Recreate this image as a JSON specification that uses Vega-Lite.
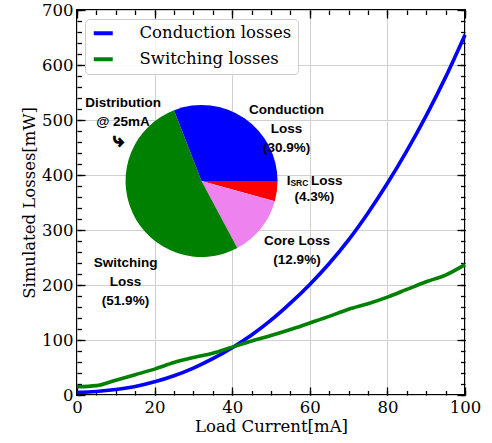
{
  "$schema": "https://vega.github.io/schema/vega-lite/v6.json",
  "width": 388,
  "height": 385,
  "autosize": "none",
  "padding": {"left": 77, "top": 10, "right": 27, "bottom": 48},
  "background": "white",
  "config": {
    "view": {"stroke": "black", "strokeWidth": 2},
    "axis": {
      "domain": false,
      "tickColor": "black",
      "tickWidth": 1.3,
      "labelFont": "DejaVu Serif",
      "labelFontSize": 16.5,
      "labelColor": "black",
      "labelFlush": false,
      "labelOverlap": false,
      "labelBound": false,
      "titleFont": "DejaVu Serif",
      "titleFontSize": 16.5,
      "titleFontWeight": "normal",
      "titleColor": "black",
      "gridColor": "#d0d0d0",
      "gridWidth": 1
    },
    "text": {
      "font": "Liberation Sans, Arial, sans-serif",
      "fontWeight": "bold",
      "fontSize": 13.5,
      "lineHeight": 19,
      "lineBreak": "\n",
      "color": "black"
    }
  },
  "datasets": {
    "losses": [
      {"current": 0, "loss": 5, "series": "Conduction losses"},
      {"current": 5, "loss": 6.5, "series": "Conduction losses"},
      {"current": 10, "loss": 10, "series": "Conduction losses"},
      {"current": 15, "loss": 15.5, "series": "Conduction losses"},
      {"current": 20, "loss": 24, "series": "Conduction losses"},
      {"current": 25, "loss": 35, "series": "Conduction losses"},
      {"current": 30, "loss": 49, "series": "Conduction losses"},
      {"current": 35, "loss": 66, "series": "Conduction losses"},
      {"current": 40, "loss": 86, "series": "Conduction losses"},
      {"current": 45, "loss": 109, "series": "Conduction losses"},
      {"current": 50, "loss": 136, "series": "Conduction losses"},
      {"current": 55, "loss": 167, "series": "Conduction losses"},
      {"current": 60, "loss": 201, "series": "Conduction losses"},
      {"current": 65, "loss": 239, "series": "Conduction losses"},
      {"current": 70, "loss": 282, "series": "Conduction losses"},
      {"current": 75, "loss": 331, "series": "Conduction losses"},
      {"current": 80, "loss": 385, "series": "Conduction losses"},
      {"current": 85, "loss": 444, "series": "Conduction losses"},
      {"current": 90, "loss": 508, "series": "Conduction losses"},
      {"current": 95, "loss": 578, "series": "Conduction losses"},
      {"current": 100, "loss": 655, "series": "Conduction losses"},
      {"current": 0, "loss": 15, "series": "Switching losses"},
      {"current": 5, "loss": 17, "series": "Switching losses"},
      {"current": 10, "loss": 27, "series": "Switching losses"},
      {"current": 15, "loss": 37, "series": "Switching losses"},
      {"current": 20, "loss": 47, "series": "Switching losses"},
      {"current": 25, "loss": 59, "series": "Switching losses"},
      {"current": 30, "loss": 68, "series": "Switching losses"},
      {"current": 35, "loss": 76, "series": "Switching losses"},
      {"current": 40, "loss": 87, "series": "Switching losses"},
      {"current": 45, "loss": 98, "series": "Switching losses"},
      {"current": 50, "loss": 108, "series": "Switching losses"},
      {"current": 55, "loss": 119, "series": "Switching losses"},
      {"current": 60, "loss": 131, "series": "Switching losses"},
      {"current": 65, "loss": 143, "series": "Switching losses"},
      {"current": 70, "loss": 156, "series": "Switching losses"},
      {"current": 75, "loss": 166, "series": "Switching losses"},
      {"current": 80, "loss": 178, "series": "Switching losses"},
      {"current": 85, "loss": 192, "series": "Switching losses"},
      {"current": 90, "loss": 206, "series": "Switching losses"},
      {"current": 95, "loss": 218, "series": "Switching losses"},
      {"current": 100, "loss": 237, "series": "Switching losses"}
    ],
    "slices": [
      {"part": "ISRC Loss", "name": "ISRC Loss", "share": 4.3},
      {"part": "Core Loss", "name": "Core Loss", "share": 12.9},
      {"part": "Switching Loss", "name": "Switching\nLoss", "share": 51.9},
      {"part": "Conduction Loss", "name": "Conduction\nLoss", "share": 30.9}
    ]
  },
  "layer": [
    {
      "data": {"name": "losses"},
      "mark": {"type": "line", "strokeWidth": 3.6, "interpolate": "monotone"},
      "encoding": {
        "x": {
          "field": "current",
          "type": "quantitative",
          "scale": {"domain": [0, 100], "nice": false, "zero": false},
          "axis": {
            "orient": "bottom",
            "values": [0, 20, 40, 60, 80, 100],
            "tickSize": -8,
            "labelPadding": 12,
            "grid": true,
            "title": "Load Current[mA]",
            "titlePadding": 3
          }
        },
        "y": {
          "field": "loss",
          "type": "quantitative",
          "scale": {"domain": [0, 700], "nice": false},
          "axis": {
            "orient": "left",
            "values": [0, 100, 200, 300, 400, 500, 600, 700],
            "tickSize": -8,
            "labelPadding": 12,
            "grid": true,
            "title": "Simulated Losses[mW]",
            "titlePadding": 4
          }
        },
        "color": {
          "field": "series",
          "type": "nominal",
          "scale": {"domain": ["Conduction losses", "Switching losses"], "range": ["#0000ff", "#008000"]},
          "legend": {
            "orient": "none",
            "legendX": 8,
            "legendY": 9,
            "title": null,
            "fillColor": "rgba(255,255,255,0.85)",
            "strokeColor": "#cccccc",
            "cornerRadius": 4,
            "padding": 6,
            "symbolType": "M-1.1,0H2.7",
            "symbolStrokeWidth": 4,
            "symbolSize": 100,
            "symbolFillColor": "transparent",
            "labelFont": "DejaVu Serif",
            "labelFontSize": 16.5,
            "labelColor": "black",
            "labelOffset": 32,
            "rowPadding": 9
          }
        }
      }
    },
    {
      "data": {"name": "slices"},
      "transform": [{"window": [{"op": "row_number", "as": "idx"}]}],
      "mark": {"type": "arc", "radius": 76},
      "encoding": {
        "theta": {
          "field": "share",
          "type": "quantitative",
          "stack": true,
          "scale": {"domain": [0, 100], "range": [1.5707963, 7.8539816]}
        },
        "order": {"field": "idx", "type": "quantitative"},
        "color": {
          "field": "part",
          "type": "nominal",
          "scale": {
            "domain": ["ISRC Loss", "Core Loss", "Switching Loss", "Conduction Loss"],
            "range": ["#ff0000", "#ee82ee", "#008000", "#0000ff"]
          },
          "legend": null
        },
        "x": {
          "datum": 32.1,
          "type": "quantitative",
          "axis": {
            "orient": "bottom",
            "values": [0, 5, 10, 15, 20, 25, 30, 35, 40, 45, 50, 55, 60, 65, 70, 75, 80, 85, 90, 95, 100],
            "tickSize": -4.5,
            "labels": false,
            "grid": false,
            "title": null
          }
        },
        "y": {
          "datum": 389.1,
          "type": "quantitative",
          "axis": {
            "orient": "left",
            "values": [0, 20, 40, 60, 80, 100, 120, 140, 160, 180, 200, 220, 240, 260, 280, 300, 320, 340, 360, 380, 400, 420, 440, 460, 480, 500, 520, 540, 560, 580, 600, 620, 640, 660, 680, 700],
            "tickSize": -4.5,
            "labels": false,
            "grid": false,
            "title": null
          }
        }
      }
    },
    {
      "data": {"name": "slices"},
      "transform": [
        {"filter": "datum.part === 'Conduction Loss'"},
        {"calculate": "datum.name + '\\n(' + format(datum.share, '.1f') + '%)'", "as": "label"}
      ],
      "mark": {"type": "text", "align": "center", "baseline": "middle"},
      "encoding": {
        "text": {"field": "label"},
        "x": {
          "datum": 54.0,
          "type": "quantitative",
          "axis": {
            "orient": "top",
            "values": [0, 20, 40, 60, 80, 100],
            "tickSize": -8,
            "labels": false,
            "grid": false,
            "title": null
          }
        },
        "y": {
          "datum": 518.7,
          "type": "quantitative",
          "axis": {
            "orient": "right",
            "values": [0, 100, 200, 300, 400, 500, 600, 700],
            "tickSize": -8,
            "labels": false,
            "grid": false,
            "title": null
          }
        }
      }
    },
    {
      "data": {"name": "slices"},
      "transform": [
        {"filter": "datum.part === 'Switching Loss'"},
        {"calculate": "datum.name + '\\n(' + format(datum.share, '.1f') + '%)'", "as": "label"}
      ],
      "mark": {"type": "text", "align": "center", "baseline": "middle"},
      "encoding": {
        "text": {"field": "label"},
        "x": {
          "datum": 12.5,
          "type": "quantitative",
          "axis": {
            "orient": "top",
            "values": [0, 5, 10, 15, 20, 25, 30, 35, 40, 45, 50, 55, 60, 65, 70, 75, 80, 85, 90, 95, 100],
            "tickSize": -4.5,
            "labels": false,
            "grid": false,
            "title": null
          }
        },
        "y": {
          "datum": 239.5,
          "type": "quantitative",
          "axis": {
            "orient": "right",
            "values": [0, 20, 40, 60, 80, 100, 120, 140, 160, 180, 200, 220, 240, 260, 280, 300, 320, 340, 360, 380, 400, 420, 440, 460, 480, 500, 520, 540, 560, 580, 600, 620, 640, 660, 680, 700],
            "tickSize": -4.5,
            "labels": false,
            "grid": false,
            "title": null
          }
        }
      }
    },
    {
      "data": {"name": "slices"},
      "transform": [
        {"filter": "datum.part === 'Core Loss'"},
        {"calculate": "datum.name + '\\n(' + format(datum.share, '.1f') + '%)'", "as": "label"}
      ],
      "mark": {"type": "text", "align": "center", "baseline": "middle"},
      "encoding": {
        "text": {"field": "label"},
        "x": {"datum": 56.7, "type": "quantitative", "axis": null},
        "y": {"datum": 280.9, "type": "quantitative", "axis": null}
      }
    },
    {
      "data": {"name": "slices"},
      "transform": [
        {"filter": "datum.part === 'ISRC Loss'"},
        {"calculate": "'(' + format(datum.share, '.1f') + '%)'", "as": "label"}
      ],
      "mark": {"type": "text", "align": "center", "baseline": "middle"},
      "encoding": {
        "text": {"field": "label"},
        "x": {"datum": 61.2, "type": "quantitative", "axis": null},
        "y": {"datum": 360.5, "type": "quantitative", "axis": null}
      }
    },
    {
      "data": {"name": "slices"},
      "transform": [{"filter": "datum.part === 'ISRC Loss'"}],
      "mark": {"type": "text", "align": "right", "baseline": "alphabetic", "text": "I"},
      "encoding": {
        "x": {"datum": 55.0, "type": "quantitative", "axis": null},
        "y": {"datum": 381.8, "type": "quantitative", "axis": null}
      }
    },
    {
      "data": {"name": "slices"},
      "transform": [{"filter": "datum.part === 'ISRC Loss'"}],
      "mark": {"type": "text", "align": "left", "baseline": "alphabetic", "text": "SRC", "fontSize": 8.5},
      "encoding": {
        "x": {"datum": 55.0, "type": "quantitative", "axis": null},
        "y": {"datum": 380.5, "type": "quantitative", "axis": null}
      }
    },
    {
      "data": {"name": "slices"},
      "transform": [{"filter": "datum.part === 'ISRC Loss'"}],
      "mark": {"type": "text", "align": "left", "baseline": "alphabetic", "text": "Loss"},
      "encoding": {
        "x": {"datum": 60.3, "type": "quantitative", "axis": null},
        "y": {"datum": 381.8, "type": "quantitative", "axis": null}
      }
    },
    {
      "data": {"values": [{"note": "Distribution\n@ 25mA"}]},
      "mark": {"type": "text", "align": "center", "baseline": "middle"},
      "encoding": {
        "text": {"field": "note"},
        "x": {"datum": 11.86, "type": "quantitative", "axis": null},
        "y": {"datum": 531.8, "type": "quantitative", "axis": null}
      }
    },
    {
      "data": {"values": [{"note": "Distribution\n@ 25mA"}]},
      "mark": {
        "type": "text",
        "align": "center",
        "baseline": "middle",
        "text": "⤷",
        "font": "DejaVu Sans",
        "fontWeight": "bold",
        "fontSize": 19,
        "fill": "white",
        "stroke": "black",
        "strokeWidth": 1
      },
      "encoding": {
        "x": {"datum": 10.7, "type": "quantitative", "axis": null},
        "y": {"datum": 464, "type": "quantitative", "axis": null}
      }
    }
  ],
  "resolve": {
    "scale": {"color": "independent"},
    "axis": {"x": "independent", "y": "independent"}
  }
}
